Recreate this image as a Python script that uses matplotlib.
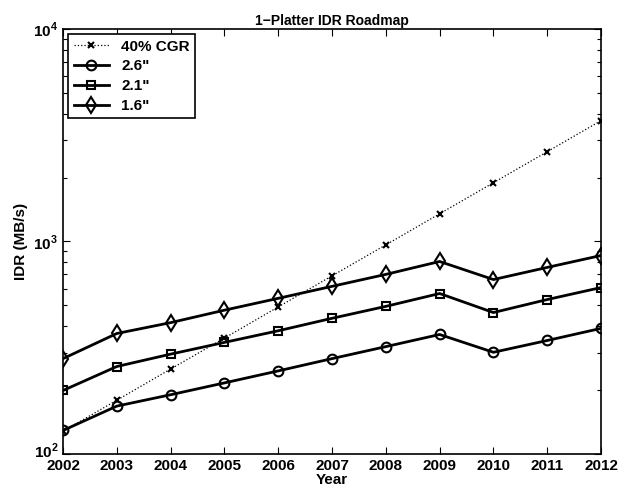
import matplotlib
matplotlib.use("Agg")
import matplotlib.pyplot as plt
import matplotlib.transforms as mtransforms
from matplotlib.ticker import LogLocator, NullFormatter

plt.rcParams['font.family'] = ['Liberation Sans', 'DejaVu Sans']
plt.rcParams['font.weight'] = 'bold'
plt.rcParams['mathtext.fontset'] = 'custom'
plt.rcParams['mathtext.rm'] = 'Liberation Sans:bold'
plt.rcParams['mathtext.bf'] = 'Liberation Sans:bold'

# Data
years = [2002, 2003, 2004, 2005, 2006, 2007, 2008, 2009, 2010, 2011, 2012]
cgr40 = [128, 179, 251, 351, 492, 689, 964, 1350, 1890, 2646, 3704]
idr_26 = [129, 168, 190, 216, 246, 281, 320, 365, 301, 342, 390]
idr_21 = [199, 258, 295, 335, 380, 435, 495, 569, 463, 533, 607]
idr_16 = [281, 369, 415, 475, 540, 615, 700, 805, 662, 755, 859]

fig = plt.figure(figsize=(6.32, 4.91), dpi=100)
ax = fig.add_axes([0.0997, 0.0754, 0.8513, 0.8656])

ax.plot(years, cgr40, linestyle=':', color='black', linewidth=0.9,
        marker='x', markersize=4, markeredgewidth=1.5, label='40% CGR')
ax.plot(years, idr_26, '-', color='black', linewidth=2,
        marker='o', markersize=7, markerfacecolor='none', markeredgewidth=1.5, label='2.6"')
ax.plot(years, idr_21, '-', color='black', linewidth=2,
        marker='s', markersize=6, markerfacecolor='none', markeredgewidth=1.5, label='2.1"')
ax.plot(years, idr_16, '-', color='black', linewidth=2,
        marker='d', markersize=8, markerfacecolor='none', markeredgewidth=1.5, label='1.6"')

ax.set_yscale('log')
ax.set_xlim(2002, 2012)
ax.set_ylim(100, 10000)
ax.set_xticks(years)
ax.set_xticklabels([str(y) for y in years])
ax.set_yticks([100, 1000, 10000])
ax.set_yticklabels([r'$10^{2}$', r'$10^{3}$', r'$10^{4}$'])
ax.yaxis.set_minor_locator(LogLocator(base=10, subs=range(2, 10)))
ax.yaxis.set_minor_formatter(NullFormatter())

ax.tick_params(which='both', direction='in', top=True, right=True, labelsize=11)
ax.tick_params(which='major', length=5, width=0.8)
ax.tick_params(which='minor', length=3, width=0.8)
for s in ax.spines.values():
    s.set_linewidth(1.2)

# nudge the bottom y label up a little so it sits above "2002"
lbl = ax.get_yticklabels()[0]
lbl.set_transform(lbl.get_transform() +
                  mtransforms.ScaledTranslation(0, 3 / 72, fig.dpi_scale_trans))

ax.set_title('1\u2212Platter IDR Roadmap', fontsize=10, fontweight='bold', pad=3)
ax.set_xlabel('Year', fontsize=11, fontweight='bold', labelpad=0)
ax.set_ylabel('IDR (MB/s)', fontsize=11, fontweight='bold', labelpad=4)

leg = ax.legend(loc='upper left', fontsize=11, fancybox=False, framealpha=1,
                edgecolor='black', handlelength=2.3, borderpad=0.35,
                labelspacing=0.38, borderaxespad=0.35)
leg.get_frame().set_linewidth(1.2)

fig.savefig('out.png', dpi=100)
